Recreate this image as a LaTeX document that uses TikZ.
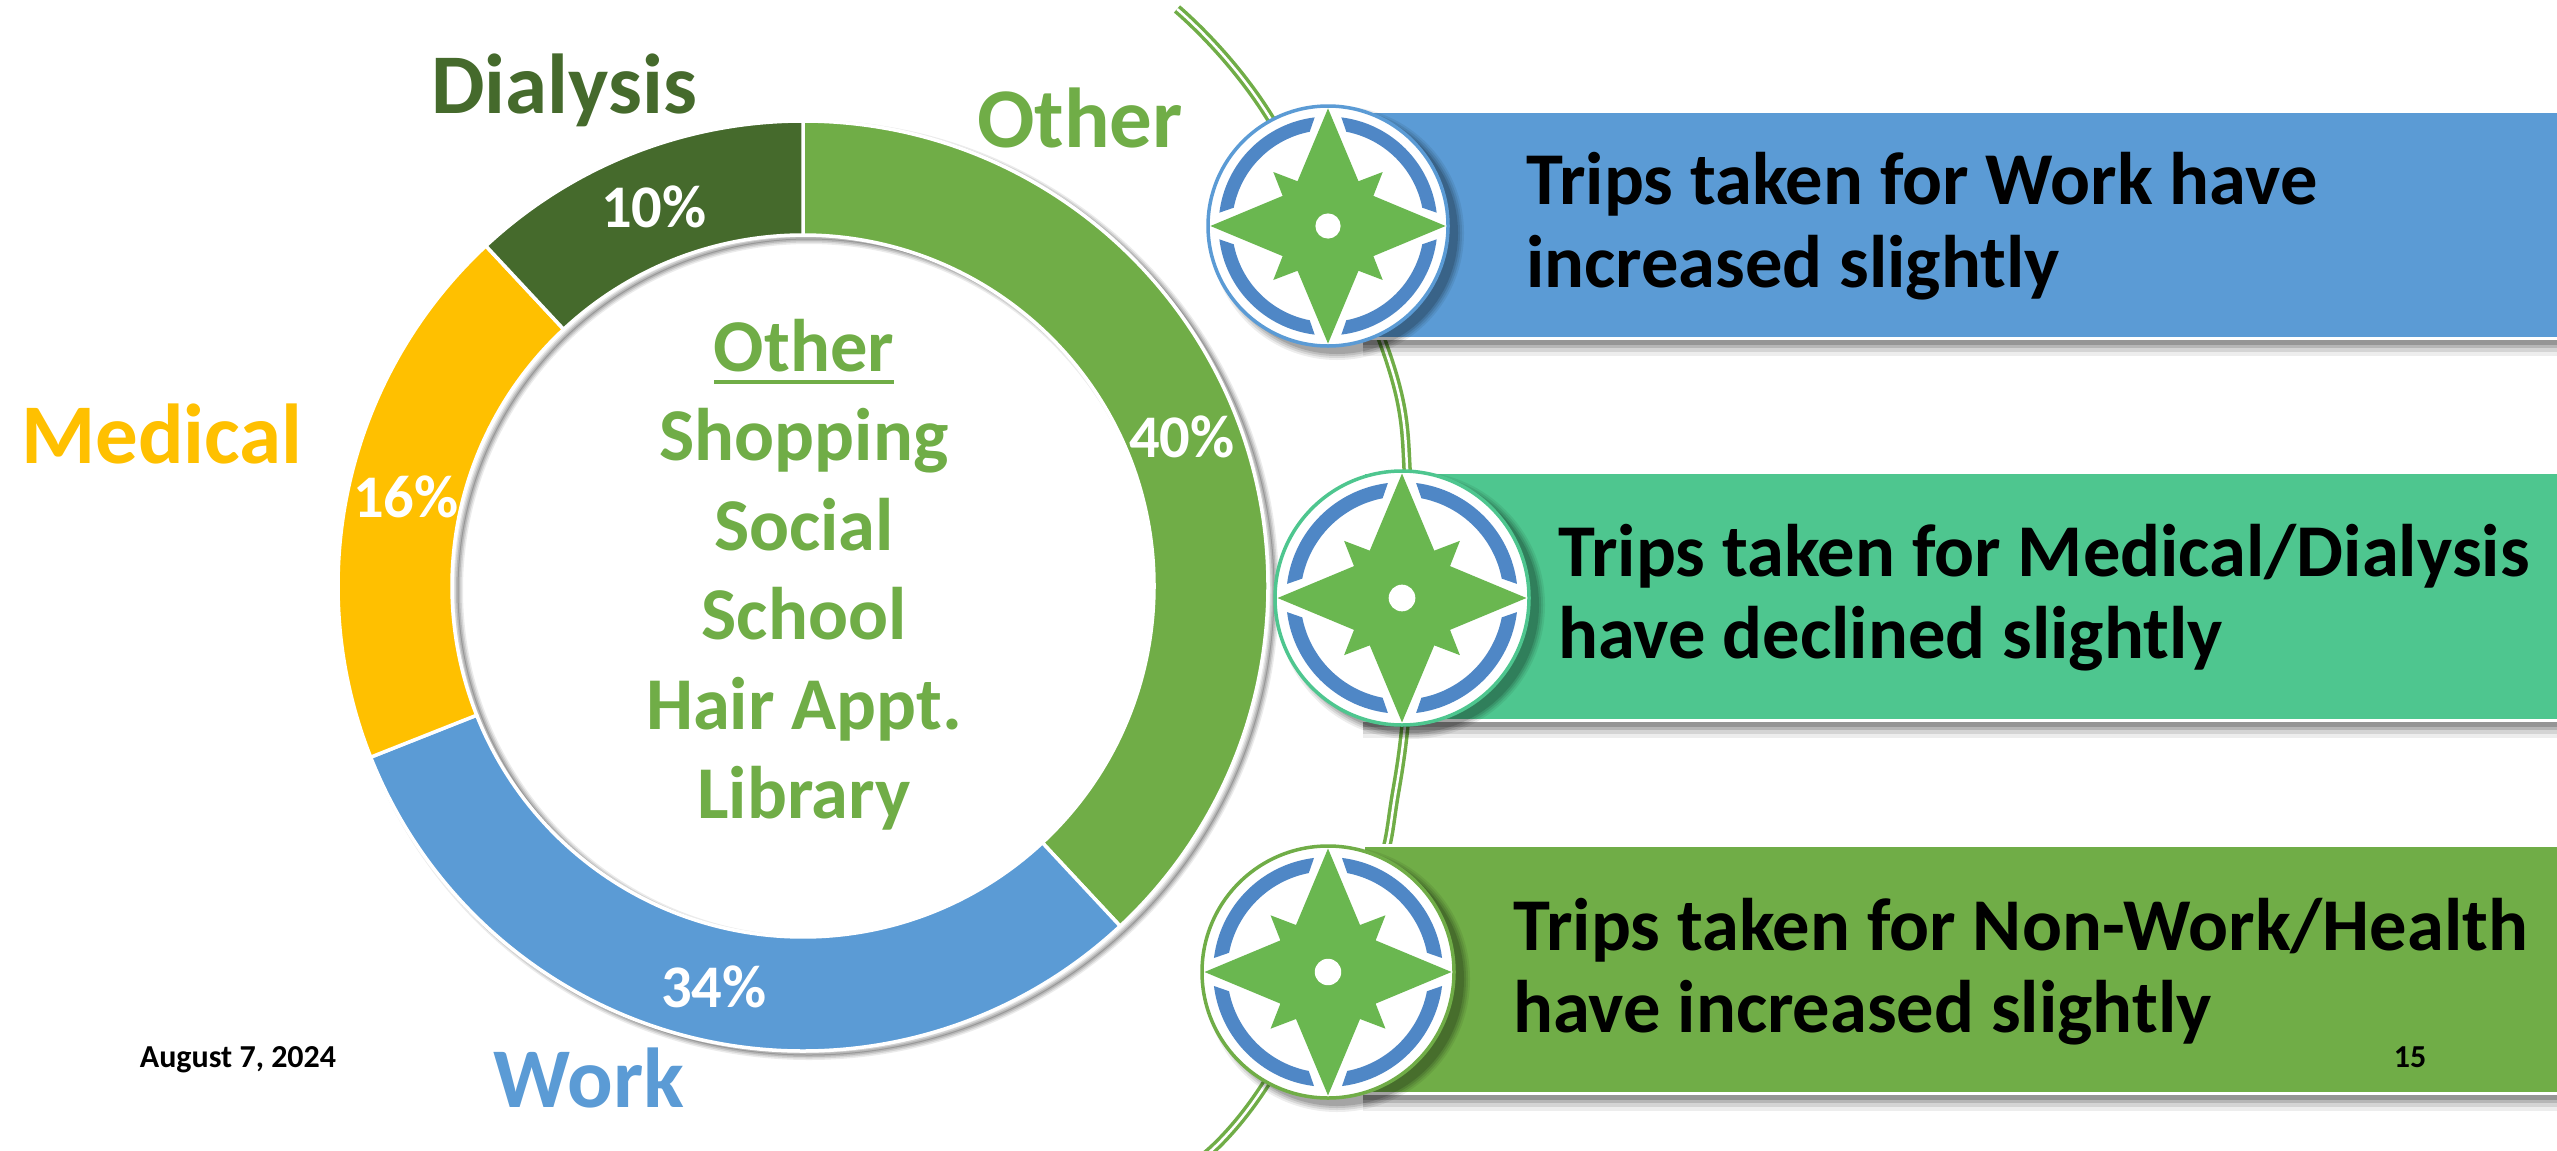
\documentclass[tikz,border=0pt]{standalone}
\usepackage{fontspec}
\setmainfont{Carlito}
\tikzset{
  lbl/.style={inner sep=0pt,anchor=base,font=\bfseries},
  boxtxt/.style={inner sep=0pt,anchor=base west,text=black,font=\bfseries\fontsize{74.5}{84}\selectfont},
  cats/.style={lbl,text=othergreen,font=\bfseries\fontsize{74.5}{90}\selectfont},
  pct/.style={lbl,text=white,font=\bfseries\fontsize{60.5}{66}\selectfont},
  big/.style={lbl,font=\bfseries\fontsize{85}{100}\selectfont},
  small/.style={lbl,text=black,font=\bfseries\fontsize{32}{34}\selectfont},
  banner/.style={draw=white,line width=3pt},
  seg/.style={draw=white,line width=3.5pt,line join=miter},
}
\definecolor{othergreen}{HTML}{70AD47}
\definecolor{dialgreen}{HTML}{456A2C}
\definecolor{medgold}{HTML}{FFC000}
\definecolor{workblue}{HTML}{5B9BD5}
\definecolor{teal}{HTML}{4EC68F}
\definecolor{starg}{HTML}{6AB750}
\definecolor{ringb}{HTML}{4F87C6}
% segment: start and end angle measured clockwise from east (y axis points down)
\newcommand{\donutseg}[3]{%
  \fill[#3] (#1:465) arc[start angle=#1,end angle=#2,radius=465] -- (#2:351) arc[start angle=#2,end angle=#1,radius=351] -- cycle;
  \draw[seg] (#1:465) arc[start angle=#1,end angle=#2,radius=465] -- (#2:351) arc[start angle=#2,end angle=#1,radius=351] -- cycle;
}
\newcommand{\compassicon}[5]{% name, x, y, radius, border
  \foreach \w/\op in {14/.07,10/.09,6/.11,2/.14}{
    \fill[black,opacity=\op] (#2+9,#3+7) circle[radius=#4+\w/2];
  }
  \node[circle,fill=white,draw=#5,line width=3.5pt,minimum size=2*#4,inner sep=0pt] (#1) at (#2,#3) {};
  \begin{scope}[shift={(#2,#3)},scale=#4]
    \foreach \r in {0,90,180,270}{
      \fill[ringb,rotate=\r] (-83:.912) arc[start angle=-83,end angle=-7,radius=.912] -- (-11:.80) arc[start angle=-11,end angle=-79,radius=.80] -- cycle;
    }
    \fill[starg] (0,-.98) -- (.254,-.373) -- (.456,-.45) -- (.378,-.251) -- (.98,0)
      -- (.378,.251) -- (.456,.45) -- (.254,.373) -- (0,.98)
      -- (-.254,.373) -- (-.456,.45) -- (-.378,.251) -- (-.98,0)
      -- (-.378,-.251) -- (-.456,-.45) -- (-.254,-.373) -- cycle;
    \fill[white] (0,0) circle[radius=.105];
  \end{scope}
}
\newcommand{\bannerbox}[4]{% name, left, top, bottom
  \foreach \w/\op in {12/.07,8/.10,4/.14,1/.18}{
    \fill[black,opacity=\op] (#2,#3+10) rectangle (2557+10,#4+6+\w);
  }
}
\begin{document}
\begin{tikzpicture}[x=1pt,y=-1pt]
\useasboundingbox (0,0) rectangle (2557,1151);
\fill[white] (0,0) rectangle (2557,1151);

% sweeping double line
\coordinate (arcstart) at (1177,9);
\coordinate (arcend) at (1206,1155);
\draw[othergreen,line width=3.5pt,double=white,double distance=2.5pt]
  plot[smooth,tension=.7] coordinates {(arcstart) (1270,118) (1383,343) (1409,500) (1409,660) (1396,790) (1367,900) (1267,1082) (arcend)};

% donut shadow
\begin{scope}[shift={(803,586)}]
  \foreach \w/\op in {10/.08,7/.10,4/.13,1/.16}{
    \draw[black,opacity=\op,line width=\w pt] (6,4) circle[radius=465];
    \draw[black,opacity=\op,line width=\w pt] (6,4) circle[radius=351];
  }
  \donutseg{-90}{47}{othergreen}
  \donutseg{47}{158.4}{workblue}
  \donutseg{158.4}{227}{medgold}
  \donutseg{227}{270}{dialgreen}
\end{scope}

% banners
\bannerbox{sb1}{1363}{113}{338}
\bannerbox{sb2}{1363}{474}{720}
\bannerbox{sb3}{1363}{847}{1093}
\draw[banner,fill=workblue] (1363,111.5) rectangle (2570,338);
\draw[banner,fill=teal] (1363,472.5) rectangle (2570,720);
\draw[banner,fill=othergreen] (1363,845.5) rectangle (2570,1093);

\compassicon{c1}{1328}{226}{120}{workblue}
\compassicon{c2}{1402}{598}{127}{teal}
\compassicon{c3}{1328}{972}{126}{othergreen}

% banner text
\node[boxtxt] (t1a) at (1526,204) {Trips taken for Work have};
\node[boxtxt] (t1b) at (1526,287) {increased slightly};
\node[boxtxt] (t2a) at (1558,576) {Trips taken for Medical/Dialysis};
\node[boxtxt] (t2b) at (1558,658) {have declined slightly};
\node[boxtxt] (t3a) at (1513,950) {Trips taken for Non-Work/Health};
\node[boxtxt] (t3b) at (1513,1032) {have increased slightly};

% segment labels
\node[big,text=dialgreen] (ldial) at (564,113) {Dialysis};
\node[big,text=othergreen] (loth) at (1080,147) {Other};
\node[big,text=medgold] (lmed) at (162,463) {Medical};
\node[big,text=workblue] (lwork) at (589,1107) {Work};

% percentages
\node[pct] (p10) at (654,227) {10\%};
\node[pct] (p40) at (1182,457) {40\%};
\node[pct] (p16) at (406,517) {16\%};
\node[pct] (p34) at (714,1007) {34\%};

% centre list
\node[cats] (c0) at (804,371) {Other};
\draw[othergreen,line width=4.5pt] (714,382) -- (894,382);
\node[cats] (c1t) at (804,460) {Shopping};
\node[cats] (c2t) at (804,550) {Social};
\node[cats] (c3t) at (804,639) {School};
\node[cats] (c4t) at (804,729) {Hair Appt.};
\node[cats] (c5t) at (804,818) {Library};

% footer
\node[small] (date) at (238,1067) {August 7, 2024};
\node[small] (page) at (2410,1067) {15};
\end{tikzpicture}
\end{document}
